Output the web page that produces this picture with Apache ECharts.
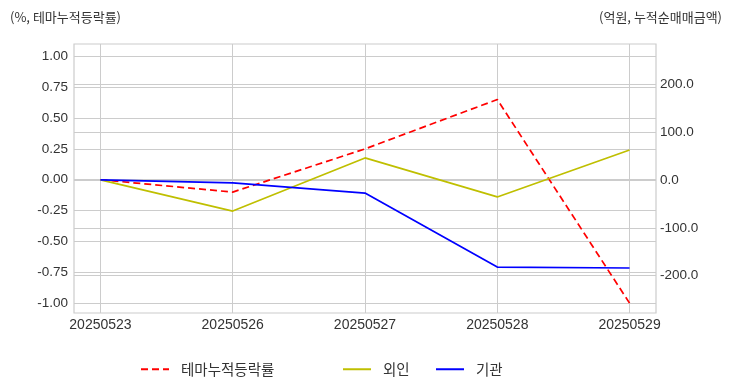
<!DOCTYPE html>
<html><head><meta charset="utf-8">
<script src="https://cdn.jsdelivr.net/npm/echarts@6/dist/echarts.min.js"></script>
<style>html,body{margin:0;padding:0;background:#fff}#c{width:732px;height:392px}</style>
</head><body><div id="c"></div>
<script>
const categories = ['20250523','20250526','20250527','20250528','20250529'];
const themeRate = [0.00, -0.10, 0.25, 0.65, -1.00];
const foreign = [0.0, -65.0, 46.0, -35.5, 62.5];
const institution = [0.0, -6.0, -27.5, -182.0, -184.0];
const leftTicks = [-1.00, -0.75, -0.50, -0.25, 0.00, 0.25, 0.50, 0.75, 1.00];
const rightTicks = [-200, -100, 0, 100, 200];
const xTicks = [0, 1, 2, 3, 4];

const FONT = '"Liberation Sans", "Noto Sans CJK KR", sans-serif';
const KFONT = '"Noto Sans CJK KR", "Liberation Sans", sans-serif';
const gridColor = '#cccccc';
const toPairs = arr => arr.map((v, i) => [i, v]);
const legendText = {fontFamily: KFONT, fontSize: 14.5, color: '#333', padding: [0, 0, 0, 7]};
const legendCommon = {top: 362, padding: 0, itemWidth: 28, itemHeight: 10, itemGap: 10, textStyle: legendText, itemStyle: {opacity: 0}};

const chart = echarts.init(document.getElementById('c'), null, {renderer: 'canvas'});
chart.setOption({
  animation: false,
  backgroundColor: '#ffffff',
  textStyle: {fontFamily: FONT},
  grid: {left: 74, right: 76, top: 44, bottom: 79, show: true, borderColor: gridColor, borderWidth: 1.2, backgroundColor: 'transparent'},
  title: [
    {text: '(%, 테마누적등락률)', left: 5, top: 6, textStyle: {fontFamily: KFONT, fontSize: 13, fontWeight: 'normal', color: '#333'}},
    {text: '(억원, 누적순매매금액)', right: 5, top: 6, textStyle: {fontFamily: KFONT, fontSize: 13, fontWeight: 'normal', color: '#333'}}
  ],
  legend: [
    Object.assign({data: ['테마누적등락률'], left: 140}, legendCommon),
    Object.assign({data: ['외인'], left: 342}, legendCommon),
    Object.assign({data: ['기관'], left: 435}, legendCommon)
  ],
  xAxis: {
    type: 'value', min: -0.2, max: 4.2,
    axisLine: {show: false},
    axisTick: {show: true, length: 0, customValues: xTicks},
    axisLabel: {customValues: xTicks, formatter: v => categories[Math.round(v)], fontSize: 14, color: '#333', margin: 5, fontFamily: FONT},
    splitLine: {show: true, lineStyle: {color: gridColor, width: 1}}
  },
  yAxis: [
    {type: 'value', position: 'left', min: -1.08, max: 1.1,
     axisLine: {show: false},
     axisTick: {show: true, length: 0, customValues: leftTicks},
     axisLabel: {customValues: leftTicks, formatter: v => v.toFixed(2), fontSize: 13.5, color: '#333', margin: 6, fontFamily: FONT},
     splitLine: {show: true, lineStyle: {color: gridColor, width: 1}}},
    {type: 'value', position: 'right', min: -278, max: 284,
     axisLine: {show: false},
     axisTick: {show: true, length: 0, customValues: rightTicks},
     axisLabel: {customValues: rightTicks, formatter: v => v.toFixed(1), fontSize: 13.5, color: '#333', margin: 4, fontFamily: FONT},
     splitLine: {show: true, lineStyle: {color: gridColor, width: 1}}}
  ],
  series: [
    {name: '테마누적등락률', type: 'line', yAxisIndex: 0, data: toPairs(themeRate), symbol: 'none',
     lineStyle: {color: '#ff0000', width: 1.7, type: [7, 4]}, itemStyle: {color: '#ff0000'}},
    {name: '외인', type: 'line', yAxisIndex: 1, data: toPairs(foreign), symbol: 'none',
     lineStyle: {color: '#bfbf00', width: 1.7}, itemStyle: {color: '#bfbf00'}},
    {name: '기관', type: 'line', yAxisIndex: 1, data: toPairs(institution), symbol: 'none',
     lineStyle: {color: '#0000ff', width: 1.7}, itemStyle: {color: '#0000ff'}}
  ]
});
</script></body></html>
